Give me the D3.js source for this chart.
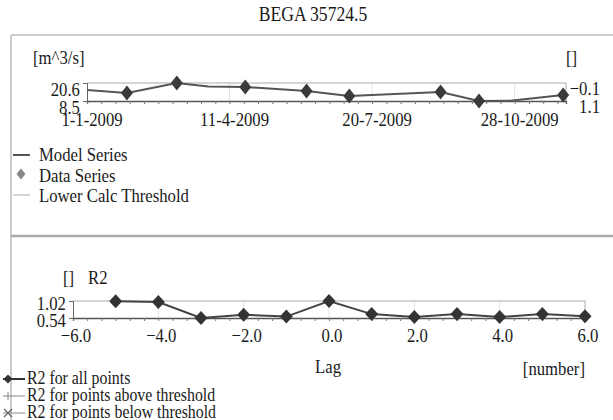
<!DOCTYPE html>
<meta charset="utf-8">
<style>
  body { margin: 0; background: #fff; }
  svg text { font-family: "Liberation Serif", serif; fill: #1a1a1a; }
</style>
<body>
<div id="chart"></div>
<script src="https://d3js.org/d3.v7.min.js"></script>
<script>

// ---- data ----
var title = "BEGA 35724.5";

// upper panel: flow
var modelDates  = ["2009-01-01","2009-01-29","2009-03-05","2009-03-27","2009-04-22","2009-06-04","2009-07-04","2009-09-06","2009-10-03","2009-10-25","2009-12-01"];
var modelValues = [15.9, 13.9, 20.6, 18.2, 17.9, 15.2, 11.9, 14.5, 8.5, 8.6, 12.5];
var dataDates   = ["2009-01-29","2009-03-05","2009-04-22","2009-06-04","2009-07-04","2009-09-06","2009-10-03","2009-12-01"];
var dataValues  = [13.9, 20.6, 17.9, 15.2, 11.9, 14.5, 8.5, 12.5];
var dateTicks   = ["2009-01-01","2009-04-11","2009-07-20","2009-10-28"];
var flowTicks   = [20.6, 8.5];
var thresholdTicks = [-0.1, 1.1];
var topLegend   = ["Model Series", "Data Series", "Lower Calc Threshold"];

// lower panel: R2 against lag
var lags    = [-5, -4, -3, -2, -1, 0, 1, 2, 3, 4, 5, 6];
var r2All   = [1.01, 0.99, 0.54, 0.63, 0.58, 1.02, 0.65, 0.57, 0.65, 0.57, 0.65, 0.59];
var lagTicks = [-6, -4, -2, 0, 2, 4, 6];
var r2Ticks  = [1.02, 0.54];
var bottomLegend = ["R2 for all points", "R2 for points above threshold", "R2 for points below threshold"];

var W = 613, H = 420, SX = 0.88;

var svg = d3.select("#chart").append("svg")
    .attr("width", W)
    .attr("height", H);

// text helper, glyphs in the picture are a bit narrow
function label(x, y, txt, anchor, size) {
  return svg.append("text")
    .attr("transform", "translate(" + x + "," + y + ") scale(" + SX + ",1)")
    .attr("text-anchor", anchor || "start")
    .attr("font-size", (size || 19) + "px")
    .text(txt);
}

var parse = d3.timeParse("%Y-%m-%d");
var fmt = d3.timeFormat("%-d-%-m-%Y");

// title + panel frame
label(313, 21, title, "middle", 20);
svg.append("line").attr("x1", 11).attr("x2", W).attr("y1", 35).attr("y2", 35)
  .attr("stroke", "#bbb").attr("stroke-width", 1.5);
svg.append("line").attr("x1", 11).attr("x2", 11).attr("y1", 35).attr("y2", H)
  .attr("stroke", "#bbb").attr("stroke-width", 1.5);
svg.append("line").attr("x1", 11).attr("x2", W).attr("y1", 236).attr("y2", 236)
  .attr("stroke", "#aaa").attr("stroke-width", 2.5);

// ---------- upper panel ----------
var x = d3.scaleTime()
  .domain([parse("2009-01-01"), parse("2009-12-03")])
  .range([87, 566]);
var y = d3.scaleLinear().domain([8.5, 20.6]).range([101, 83]);
var yR = d3.scaleLinear().domain([1.1, -0.1]).range([101, 83]);

// grid
svg.selectAll(".gridT").data(dateTicks.slice(1)).enter().append("line")
  .attr("x1", function(d) { return x(parse(d)); })
  .attr("x2", function(d) { return x(parse(d)); })
  .attr("y1", 83).attr("y2", 101)
  .attr("stroke", "#e2e2e2");
svg.append("line").attr("x1", 87).attr("x2", 566).attr("y1", y(20.6)).attr("y2", y(20.6))
  .attr("stroke", "#aaa").attr("stroke-width", 1.2);
svg.append("line").attr("x1", 566).attr("x2", 566).attr("y1", 83).attr("y2", 101)
  .attr("stroke", "#aaa");

// minor ticks every 10 days
var minor = d3.range(0, 337, 10).map(function(k) { return d3.timeDay.offset(parse("2009-01-01"), k); });
var xAxis = svg.append("g")
  .attr("transform", "translate(0,101)")
  .call(d3.axisBottom(x).tickValues(minor).tickSize(3).tickFormat(""));
xAxis.select(".domain").attr("stroke", "#555").attr("stroke-width", 1.3);
xAxis.selectAll(".tick line").attr("stroke", "#777");

dateTicks.forEach(function(d) {
  label(x(parse(d)) + 5, 126, fmt(parse(d)), "middle");
});

// left axis
var yAxis = svg.append("g")
  .attr("transform", "translate(87,0)")
  .call(d3.axisLeft(y).tickValues(flowTicks).tickSize(4).tickPadding(4).tickFormat(d3.format(".1f")));
yAxis.select(".domain").attr("stroke", "#666");
yAxis.selectAll(".tick line").attr("stroke", "#666");
yAxis.selectAll("text").attr("dy", null).attr("y", 12)
  .attr("font-size", "19px")
  .attr("transform", "scale(" + SX + ",1)");

// right axis labels
thresholdTicks.forEach(function(v) {
  label(600, yR(v) + 12, d3.format(".1f")(v), "end");
});
label(33, 64, "[m^3/s]");
label(566, 64, "[]");

// model line + data diamonds
var modelPts = modelDates.map(function(d, i) { return [parse(d), modelValues[i]]; });
svg.append("path")
  .datum(modelPts)
  .attr("fill", "none")
  .attr("stroke", "#555")
  .attr("stroke-width", 2)
  .attr("d", d3.line().x(function(d) { return x(d[0]); }).y(function(d) { return y(d[1]); }));

function diamond(w, h) {
  return "M0," + (-h / 2) + "L" + (w / 2) + ",0L0," + (h / 2) + "L" + (-w / 2) + ",0Z";
}
svg.selectAll(".dataPt").data(dataDates).enter().append("path")
  .attr("d", diamond(12, 15))
  .attr("fill", "#3a3a3a")
  .attr("transform", function(d, i) { return "translate(" + x(parse(d)) + "," + y(dataValues[i]) + ")"; });

// upper legend
svg.append("line").attr("x1", 13).attr("x2", 30).attr("y1", 155).attr("y2", 155)
  .attr("stroke", "#555").attr("stroke-width", 2);
svg.append("path").attr("d", diamond(9, 11)).attr("fill", "#888")
  .attr("transform", "translate(21,174)");
svg.append("line").attr("x1", 13).attr("x2", 30).attr("y1", 195).attr("y2", 195)
  .attr("stroke", "#aaa").attr("stroke-width", 1);
topLegend.forEach(function(t, i) { label(39, 161 + i * 20.5, t); });

// ---------- lower panel ----------
var xl = d3.scaleLinear().domain([-6, 6]).range([73, 585]);
var yl = d3.scaleLinear().domain([0.54, 1.02]).range([318, 301]);

svg.selectAll(".gridB").data(lagTicks.slice(1, -1)).enter().append("line")
  .attr("x1", function(d) { return xl(d); })
  .attr("x2", function(d) { return xl(d); })
  .attr("y1", 301).attr("y2", 318)
  .attr("stroke", "#e2e2e2");
svg.append("line").attr("x1", 73).attr("x2", 585).attr("y1", yl(1.02)).attr("y2", yl(1.02))
  .attr("stroke", "#aaa").attr("stroke-width", 1.2);
svg.append("line").attr("x1", 585).attr("x2", 585).attr("y1", 301).attr("y2", 318)
  .attr("stroke", "#aaa");

var lagAxis = svg.append("g")
  .attr("transform", "translate(0,318)")
  .call(d3.axisBottom(xl).tickValues(d3.range(-18, 19).map(function(k) { return k / 3; }))
    .tickSize(3).tickFormat(""));
lagAxis.select(".domain").attr("stroke", "#555").attr("stroke-width", 1.3);
lagAxis.selectAll(".tick line").attr("stroke", "#777");

lagTicks.forEach(function(v) {
  label(xl(v) + 3, 342, d3.format(".1f")(v), "middle");
});

var r2Axis = svg.append("g")
  .attr("transform", "translate(73,0)")
  .call(d3.axisLeft(yl).tickValues(r2Ticks).tickSize(4).tickPadding(4).tickFormat(d3.format(".2f")));
r2Axis.select(".domain").attr("stroke", "#666");
r2Axis.selectAll(".tick line").attr("stroke", "#666");
r2Axis.selectAll("text").attr("dy", null).attr("y", 8)
  .attr("font-size", "19px")
  .attr("transform", "scale(" + SX + ",1)");

label(63, 284, "[]");
label(88, 284, "R2");
label(328, 373, "Lag", "middle");
label(585, 375, "[number]", "end");

svg.append("path")
  .datum(lags)
  .attr("fill", "none")
  .attr("stroke", "#444")
  .attr("stroke-width", 2)
  .attr("d", d3.line().x(function(d) { return xl(d); }).y(function(d, i) { return yl(r2All[i]); }));

svg.selectAll(".r2Pt").data(lags).enter().append("path")
  .attr("d", diamond(13, 14))
  .attr("fill", "#333")
  .attr("transform", function(d, i) { return "translate(" + xl(d) + "," + yl(r2All[i]) + ")"; });

// lower legend
var lgY = [379, 396, 413];
svg.append("line").attr("x1", 3).attr("x2", 25).attr("y1", lgY[0]).attr("y2", lgY[0])
  .attr("stroke", "#333").attr("stroke-width", 2);
svg.append("path").attr("d", diamond(9, 9)).attr("fill", "#333")
  .attr("transform", "translate(8," + lgY[0] + ")");
svg.append("line").attr("x1", 3).attr("x2", 25).attr("y1", lgY[1]).attr("y2", lgY[1])
  .attr("stroke", "#888").attr("stroke-width", 1);
svg.append("line").attr("x1", 8).attr("x2", 8).attr("y1", lgY[1] - 4).attr("y2", lgY[1] + 4)
  .attr("stroke", "#888").attr("stroke-width", 1);
svg.append("line").attr("x1", 3).attr("x2", 25).attr("y1", lgY[2]).attr("y2", lgY[2])
  .attr("stroke", "#888").attr("stroke-width", 1);
svg.append("path").attr("d", "M4," + (lgY[2] - 4) + "L12," + (lgY[2] + 4) + "M12," + (lgY[2] - 4) + "L4," + (lgY[2] + 4))
  .attr("stroke", "#666").attr("stroke-width", 1.2);
bottomLegend.forEach(function(t, i) {
  svg.append("text")
    .attr("transform", "translate(27," + (lgY[i] + 5) + ") scale(" + SX + ",1)")
    .attr("font-size", "18px")
    .text(t);
});

</script>
</body>
